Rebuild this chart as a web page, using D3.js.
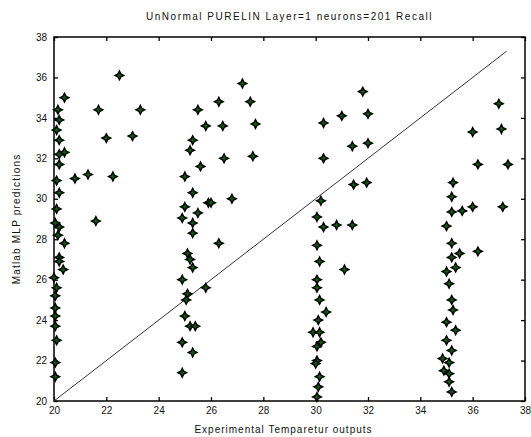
<!DOCTYPE html>
<html>
<head>
<meta charset="utf-8">
<script src="https://cdn.jsdelivr.net/npm/d3@7"></script>
<style>
  body { margin: 0; background: #fff; }
  text { font-family: "Liberation Sans", Arial, sans-serif; fill: #111; }
</style>
</head>
<body>
<div id="chart"></div>
<script>
const width = 531;
const height = 437;

const margin = { top: 37, left: 54, bottom: 36, right: 6 };

// experimental temperatures (x) and MLP predictions (y)
const expX = [
  20.4, 20.15, 20.2, 20.1, 20.2, 20.4, 20.2, 20.2, 20.1, 20.2, 20.1, 20.05, 20.2, 20.15, 20.4,
  20.2, 20.2, 20.35, 20.0, 20.1, 20.05, 20.05, 20.05, 20.05, 20.1, 20.05, 20.05,
  20.8, 21.3, 21.7, 22.0, 22.5, 22.25, 23.0, 23.3, 21.6,
  25.5, 25.8, 26.45, 25.3, 25.2, 25.6, 26.5, 25.0, 25.3, 25.0, 25.9, 25.5, 24.9, 25.3, 25.3,
  26.3, 25.1, 25.2, 25.3, 24.9, 25.1, 25.05, 25.8, 25.0, 25.2, 25.4, 24.9, 25.3, 24.9,
  27.2, 26.3, 27.5, 27.7, 27.6, 26.8, 26.0,
  30.3, 31.0, 31.4, 30.3, 31.45, 30.2, 30.05, 30.8, 31.4, 30.3, 31.8, 32.0, 32.0, 31.95,
  30.05, 30.15, 31.1, 30.05, 30.05, 30.15, 30.4, 30.1, 29.9, 30.15, 30.2, 30.05, 30.05, 30.0,
  30.15, 30.1, 30.05,
  37.0, 37.1, 36.0, 36.2, 37.35, 35.25, 35.2, 35.2, 35.6, 36.0, 37.15, 35.0,
  35.2, 36.2, 35.5, 35.2, 35.35, 35.0, 35.1, 35.2, 35.25, 35.0, 35.35, 35.0, 35.2,
  34.85, 35.1, 34.9, 35.1, 35.1, 35.2
];

const predY = [
  35.0, 34.4, 33.9, 33.4, 32.9, 32.3, 32.2, 31.7, 30.9, 30.3, 29.5, 28.8, 28.6, 28.2, 27.8,
  27.1, 26.9, 26.5, 26.1, 25.6, 25.2, 24.6, 24.2, 23.7, 23.0, 21.9, 21.2,
  31.0, 31.2, 34.4, 33.0, 36.1, 31.1, 33.1, 34.4, 28.9,
  34.4, 33.6, 33.6, 32.9, 32.4, 31.6, 32.0, 31.1, 30.3, 29.6, 29.8, 29.3, 29.05, 28.8, 28.3,
  27.8, 27.3, 27.0, 26.6, 26.0, 25.3, 25.0, 25.6, 24.2, 23.7, 23.7, 22.9, 22.4, 21.4,
  35.7, 34.8, 34.8, 33.7, 32.1, 30.0, 29.8,
  33.75, 34.1, 32.6, 32.0, 30.7, 29.9, 29.1, 28.7, 28.7, 28.6, 35.3, 34.2, 32.75, 30.8,
  27.7, 26.9, 26.5, 26.0, 25.6, 25.0, 24.4, 24.0, 23.4, 23.4, 22.9, 22.7, 22.0, 21.85,
  21.2, 20.7, 20.2,
  34.7, 33.45, 33.3, 31.7, 31.7, 30.8, 30.1, 29.35, 29.4, 29.6, 29.6, 28.65,
  27.8, 27.4, 27.3, 27.1, 26.6, 26.4, 25.8, 25.0, 24.5, 23.9, 23.5, 23.0, 22.5,
  22.1, 21.9, 21.5, 21.35, 20.95, 20.45
];

const xTicks = [20, 22, 24, 26, 28, 30, 32, 34, 36, 38];
const yTicks = [20, 22, 24, 26, 28, 30, 32, 34, 36, 38];
const fitLine = [20, 37.3];

const title = "UnNormal PURELIN Layer=1 neurons=201 Recall";
const xTitle = "Experimental Temparetur outputs";
const yTitle = "Matlab MLP predictions";

const points = expX.map((x, i) => ({ x: x, y: predY[i] }));

//scales
const xScale = d3.scaleLinear().domain([20, 38]).range([margin.left, width - margin.right]);
const yScale = d3.scaleLinear().domain([20, 38]).range([height - margin.bottom, margin.top]);

const svg = d3.select("#chart").append("svg").attr("width", width).attr("height", height);

// axes with inward ticks, MATLAB style
const bottom = height - margin.bottom;
const right = width - margin.right;

svg.append("g")
  .attr("transform", `translate(0,${bottom})`)
  .call(d3.axisBottom(xScale).tickValues(xTicks).tickSizeInner(-4).tickSizeOuter(0).tickPadding(6))
  .call(g => g.select(".domain").remove());

svg.append("g")
  .attr("transform", `translate(0,${margin.top})`)
  .call(d3.axisTop(xScale).tickValues(xTicks).tickSizeInner(-4).tickSizeOuter(0).tickFormat(""))
  .call(g => g.select(".domain").remove());

svg.append("g")
  .attr("transform", `translate(${margin.left},0)`)
  .call(d3.axisLeft(yScale).tickValues(yTicks).tickSizeInner(-4).tickSizeOuter(0).tickPadding(7))
  .call(g => g.select(".domain").remove());

svg.append("g")
  .attr("transform", `translate(${right},0)`)
  .call(d3.axisRight(yScale).tickValues(yTicks).tickSizeInner(-4).tickSizeOuter(0).tickFormat(""))
  .call(g => g.select(".domain").remove());

svg.selectAll(".tick line").attr("stroke", "#000").attr("stroke-width", 1.3);
svg.selectAll(".tick text").style("font-size", "10px").attr("fill", "#111");

svg.append("rect")
  .attr("x", margin.left)
  .attr("y", margin.top)
  .attr("width", right - margin.left)
  .attr("height", bottom - margin.top)
  .attr("fill", "none")
  .attr("stroke", "#000")
  .attr("stroke-width", 1.5);

// fit line
svg.append("line")
  .attr("x1", xScale(fitLine[0]))
  .attr("y1", yScale(fitLine[0]))
  .attr("x2", xScale(fitLine[1]))
  .attr("y2", yScale(fitLine[1]))
  .attr("stroke", "#333")
  .attr("stroke-width", 1);

// 4 pointed star marker
const star = (() => {
  const ro = 4.4, ri = 2.1;
  const pts = [];
  for (let k = 0; k < 8; k++) {
    const a = k * Math.PI / 4;
    const r = k % 2 === 0 ? ro : ri;
    pts.push([r * Math.sin(a), -r * Math.cos(a)]);
  }
  return "M" + pts.map(p => p.join(",")).join("L") + "Z";
})();

svg.append("g")
  .selectAll("path")
  .data(points)
  .join("path")
  .attr("transform", d => `translate(${xScale(d.x)},${yScale(d.y)})`)
  .attr("d", star)
  .attr("fill", "#0a5c0a")
  .attr("stroke", "#000")
  .attr("stroke-width", 1.4);

// texts
svg.append("text")
  .attr("x", (margin.left + right) / 2)
  .attr("y", 20)
  .attr("text-anchor", "middle")
  .style("font-size", "10px")
  .style("letter-spacing", "1.5px")
  .text(title);

svg.append("text")
  .attr("x", (margin.left + right) / 2 - 6)
  .attr("y", 433)
  .attr("text-anchor", "middle")
  .style("font-size", "10px")
  .style("letter-spacing", "1px")
  .text(xTitle);

svg.append("text")
  .attr("transform", `translate(20,${(margin.top + bottom) / 2}) rotate(-90)`)
  .attr("text-anchor", "middle")
  .style("font-size", "10px")
  .style("letter-spacing", "1.2px")
  .text(yTitle);
</script>
</body>
</html>
